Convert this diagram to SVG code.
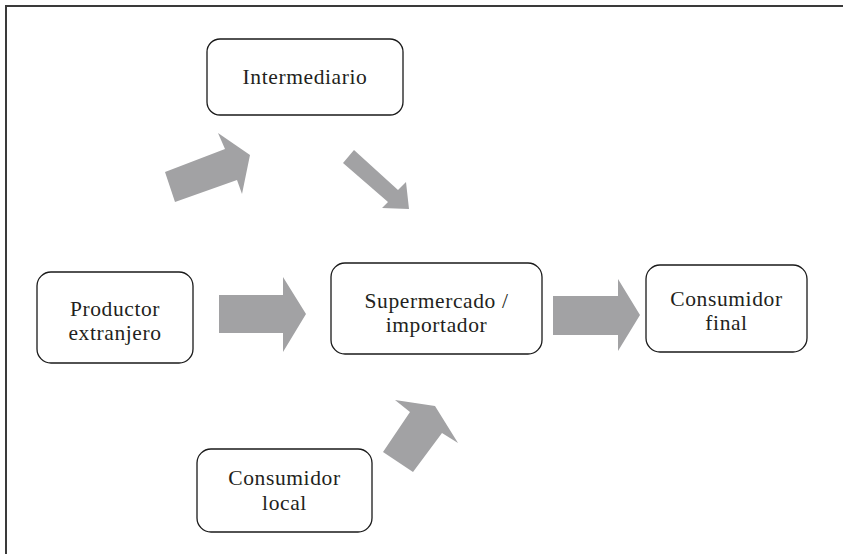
<svg xmlns="http://www.w3.org/2000/svg" width="843" height="554" viewBox="0 0 843 554">
<style>
.box{fill:#fff;stroke:#1a1a1a;stroke-width:1.3}
.lbl{font-family:"Liberation Serif","Times New Roman",serif;font-size:21.5px;letter-spacing:0.6px;fill:#231f20;text-anchor:middle}
.arr{fill:#a2a2a4;stroke:none}
.frame{stroke:#3a3a3a;stroke-width:2;fill:none}
</style>
<rect width="843" height="554" fill="#fff"/>
<path class="frame" d="M6,554 V6 H843"/>
<g id="connectors">
<polygon class="arr" points="219,295 283,295 283,277 306,314 283,352 283,333 219,333"/>
<polygon class="arr" points="553,296 618,296 618,279 640,315 618,351 618,335 553,335"/>
<polygon class="arr" points="165,172 225,149 218,133 250,155 242,194 237,180 175,202"/>
<polygon class="arr" points="343,163 354,150 398,190 406,182 409,209 382,208 388,202"/>
<polygon class="arr" points="383,452 410,412 395,400 435,406 458,443 442,433 413,472"/>
</g>
<g id="intermediario">
<rect class="box" x="207" y="39" width="196" height="76" rx="13"/>
<text class="lbl" x="305" y="84">Intermediario</text>
</g>
<g id="productor">
<rect class="box" x="37" y="272" width="156" height="91" rx="14"/>
<text class="lbl" x="115" y="316">Productor</text>
<text class="lbl" x="115" y="340">extranjero</text>
</g>
<g id="supermercado">
<rect class="box" x="331" y="263" width="211" height="91" rx="14"/>
<text class="lbl" x="436.5" y="308">Supermercado /</text>
<text class="lbl" x="436.5" y="332">importador</text>
</g>
<g id="consumidor-final">
<rect class="box" x="646" y="265" width="161" height="87" rx="14"/>
<text class="lbl" x="726.5" y="306">Consumidor</text>
<text class="lbl" x="726.5" y="330">final</text>
</g>
<g id="consumidor-local">
<rect class="box" x="197" y="449" width="175" height="83" rx="14"/>
<text class="lbl" x="284.5" y="485">Consumidor</text>
<text class="lbl" x="284.5" y="510">local</text>
</g>
</svg>
